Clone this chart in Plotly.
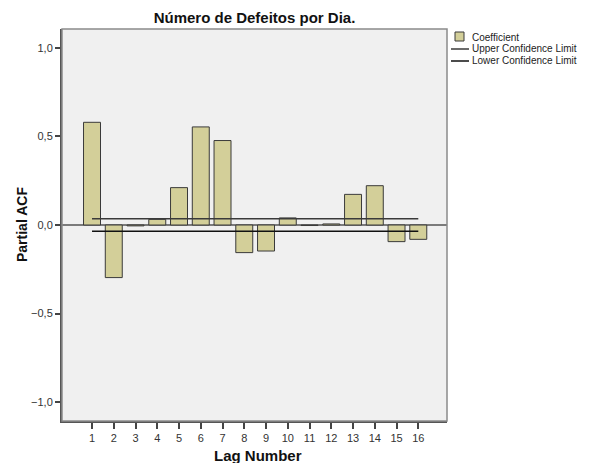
import plotly.graph_objects as go

# Partial autocorrelation of daily defect counts
lags = list(range(1, 17))
pacf = [0.58, -0.297, -0.005, 0.032, 0.211, 0.554, 0.477, -0.156,
        -0.147, 0.04, -0.003, 0.006, 0.173, 0.222, -0.094, -0.081]
upper_limit = [0.036] * 16
lower_limit = [-0.036] * 16

BAR_FILL = "#d3cf99"
EDGE = "#3a3a3a"

fig = go.Figure()
fig.add_trace(go.Bar(
    x=lags, y=pacf, name="Coefficient", width=0.78,
    marker=dict(color=BAR_FILL, line=dict(color=EDGE, width=1)),
))
fig.add_trace(go.Scatter(
    x=lags, y=upper_limit, mode="lines", name="Upper Confidence Limit",
    line=dict(color=EDGE, width=1.5),
))
fig.add_trace(go.Scatter(
    x=lags, y=lower_limit, mode="lines", name="Lower Confidence Limit",
    line=dict(color="#111111", width=1.5),
))

W, H = 590, 463
L, R, T, B = 62, 143, 29, 42
PW, PH = W - L - R, H - T - B


def px_x(px):
    return (px - L) / PW


def px_y(py):
    return 1 - (py - T) / PH


fig.update_layout(
    width=W, height=H,
    margin=dict(l=L, r=R, t=T, b=B),
    paper_bgcolor="white", plot_bgcolor="#f0f0f0",
    separators=",.",
    font=dict(family="Liberation Sans, Arial, sans-serif", color="#222"),
    title=dict(text="<b>Número de Defeitos por Dia.</b>", x=254.5 / W, xanchor="center",
               y=1 - 18 / H, yanchor="middle", font=dict(size=15, color="#111")),
    showlegend=False,
    bargap=0.2,
)
fig.update_xaxes(
    range=[-0.38, 17.32], tickmode="array", tickvals=lags,
    ticktext=[str(v) for v in lags],
    ticks="outside", ticklen=6, tickcolor="#444", tickwidth=1.5,
    tickfont=dict(size=11, color="#333"),
    showline=True, linecolor="#555", linewidth=2, showgrid=False, zeroline=False,
    automargin=False,
)
fig.update_yaxes(
    range=[-1.107, 1.107], tickvals=[-1, -0.5, 0, 0.5, 1], tickformat=".1f",
    ticks="outside", ticklen=5, tickcolor="#444", tickwidth=1.5,
    tickfont=dict(size=11, color="#333"),
    showline=True, linecolor="#555", linewidth=2, showgrid=False,
    zeroline=False, automargin=False,
)

# axis titles
fig.add_annotation(text="<b>Lag Number</b>", xref="paper", yref="paper",
                   x=px_x(258), y=px_y(456), xanchor="center", yanchor="middle",
                   showarrow=False, font=dict(size=15, color="#111"))
fig.add_annotation(text="<b>Partial ACF</b>", xref="paper", yref="paper",
                   x=px_x(22), y=px_y(225), xanchor="center", yanchor="middle",
                   textangle=-90, showarrow=False, font=dict(size=14, color="#111"))

# reference line at zero across the plot area, and a light frame
fig.add_shape(type="line", xref="paper", yref="y", x0=0, x1=1, y0=0, y1=0,
              line=dict(color="#555", width=1.5), layer="below")
fig.add_shape(type="rect", xref="paper", yref="paper", x0=0, x1=1, y0=0, y1=1,
              line=dict(color="#8a8a8a", width=1.5), layer="above")

# legend, drawn compactly to the right of the plot
fig.add_shape(type="rect", xref="paper", yref="paper",
              x0=px_x(455), x1=px_x(464), y0=px_y(41), y1=px_y(32),
              fillcolor=BAR_FILL, line=dict(color=EDGE, width=1))
fig.add_shape(type="line", xref="paper", yref="paper",
              x0=px_x(451), x1=px_x(469), y0=px_y(49), y1=px_y(49),
              line=dict(color=EDGE, width=1.5))
fig.add_shape(type="line", xref="paper", yref="paper",
              x0=px_x(451), x1=px_x(469), y0=px_y(61), y1=px_y(61),
              line=dict(color="#111", width=1.5))
for label, ypx in [("Coefficient", 37), ("Upper Confidence Limit", 49),
                   ("Lower Confidence Limit", 61)]:
    fig.add_annotation(text=label, xref="paper", yref="paper",
                       x=px_x(470), y=px_y(ypx), xanchor="left", yanchor="middle",
                       showarrow=False, font=dict(size=10, color="#222"))

fig.write_html("out.html")
